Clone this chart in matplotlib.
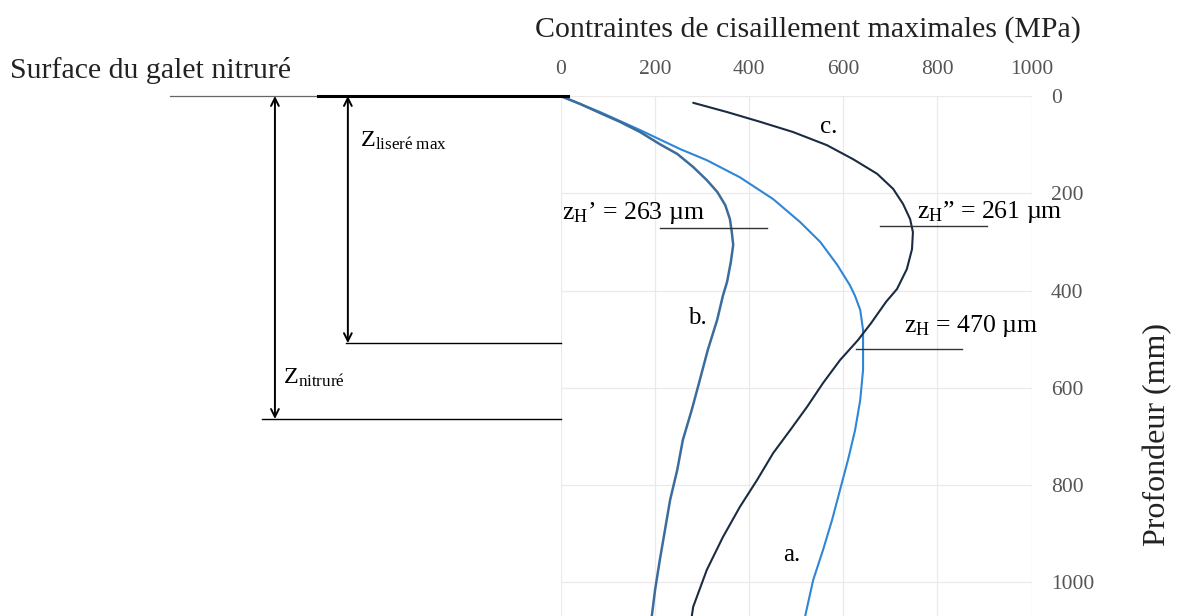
import matplotlib
matplotlib.use("Agg")
import matplotlib.pyplot as plt

plt.rcParams['font.family'] = ['Liberation Serif', 'DejaVu Serif']
plt.rcParams['mathtext.fontset'] = 'custom'
plt.rcParams['mathtext.rm'] = 'Liberation Serif'
plt.rcParams['mathtext.it'] = 'Liberation Serif:italic'

# Maximum shear stress (MPa) versus depth for the three cases
depth_a = [2, 33, 70, 109, 132, 167, 212, 259, 300, 347, 389, 411, 440, 481, 522, 563,
           625, 687, 748, 810, 872, 933, 995, 1069]
stress_a = [4, 83, 168, 253, 310, 380, 451, 508, 551, 587, 614, 625, 636, 642, 642, 642,
            636, 625, 610, 593, 576, 557, 536, 519]

depth_b = [2, 16, 35, 53, 74, 99, 119, 146, 173, 197, 224, 253, 280, 306, 341, 382, 411,
           460, 522, 584, 645, 707, 769, 830, 892, 954, 1015, 1069]
stress_b = [4, 40, 83, 125, 168, 210, 247, 281, 310, 332, 349, 359, 363, 366, 361, 353,
            344, 332, 312, 295, 278, 259, 247, 232, 221, 210, 200, 193]

depth_c = [14, 33, 53, 74, 101, 130, 160, 191, 222, 253, 280, 315, 356, 397, 423, 467,
           502, 543, 590, 639, 687, 734, 789, 845, 907, 974, 1050, 1069]
stress_c = [281, 353, 423, 493, 565, 621, 672, 706, 727, 742, 748, 746, 735, 714, 691,
            659, 631, 593, 557, 523, 487, 451, 417, 380, 344, 310, 281, 278]

x_ticks = [0, 200, 400, 600, 800, 1000]
y_ticks = [0, 200, 400, 600, 800, 1000]

fig = plt.figure(figsize=(11.78, 6.16), dpi=100)
ax = fig.add_axes([561 / 1178, 0.0, 470.5 / 1178, 1 - 96 / 616])

ax.plot(stress_a, depth_a, color='#2f86d6', lw=1.5, solid_capstyle='round',
        solid_joinstyle='round')
ax.plot(stress_b, depth_b, color='#3b6c9c', lw=1.8, solid_capstyle='round',
        solid_joinstyle='round')
ax.plot(stress_c, depth_c, color='#1b2c42', lw=1.5, solid_capstyle='round',
        solid_joinstyle='round')

ax.set_xlim(0, 1000)
ax.set_ylim(1069, 0)
ax.xaxis.tick_top()
ax.yaxis.tick_right()
ax.set_xticks(x_ticks)
ax.set_yticks(y_ticks)
ax.tick_params(axis='x', length=0, pad=12, labelsize=15.5, labelcolor='#555555')
ax.tick_params(axis='y', length=0, pad=14, labelsize=15.5, labelcolor='#555555')
for lab in ax.get_yticklabels():
    lab.set_horizontalalignment('left')
for s in ax.spines.values():
    s.set_visible(False)
ax.grid(True, color='#ece8ec', lw=0.9)
ax.set_axisbelow(True)

# Depth markers drawn on the left of the plot
line_kw = dict(clip_on=False, color='black')
ax.plot([-832, -517], [0, 0], lw=0.9, color='#666666', clip_on=False)
ax.plot([-517, 15], [0, 0], lw=2.2, **line_kw)
ax.plot([-458, 0], [508, 508], lw=1.0, **line_kw)
ax.plot([-636, 0], [664, 664], lw=1.0, **line_kw)
arrow = dict(arrowstyle='<->', color='black', lw=1.4, mutation_scale=14,
             shrinkA=0, shrinkB=0)
ax.annotate('', xy=(-453, 0), xytext=(-453, 508), arrowprops=arrow,
            annotation_clip=False)
ax.annotate('', xy=(-608, 0), xytext=(-608, 664), arrowprops=arrow,
            annotation_clip=False)
ax.text(-428, 92, r'Z$_{\mathrm{liser\acute{e}\ max}}$', fontsize=17.5, va='center',
        ha='left', clip_on=False)
ax.text(-591, 580, r'Z$_{\mathrm{nitrur\acute{e}}}$', fontsize=17.5, va='center',
        ha='left', clip_on=False)

# Positions of the stress maxima
ax.plot([211, 438], [271, 271], color='#333333', lw=1.0)
ax.plot([679, 906], [267, 267], color='#333333', lw=1.0)
ax.plot([628, 853], [520, 520], color='#333333', lw=1.0)
ax.text(2, 240, 'z$_{\\mathrm{H}}$\u2019 = 263 \u00b5m', fontsize=18.5, va='center', ha='left')
ax.text(757, 238, 'z$_{\\mathrm{H}}$\u201d = 261 \u00b5m', fontsize=18.5, va='center', ha='left',
        clip_on=False)
ax.text(728, 473, 'z$_{\\mathrm{H}}$ = 470 \u00b5m', fontsize=18.5, va='center', ha='left',
        clip_on=False)

ax.text(568, 64, 'c.', fontsize=18, va='center', ha='center')
ax.text(289, 456, 'b.', fontsize=18, va='center', ha='center')
ax.text(491, 943, 'a.', fontsize=18, va='center', ha='center')

fig.text(808 / 1178, 1 - 30 / 616, 'Contraintes de cisaillement maximales (MPa)',
         fontsize=21.5, ha='center', va='center', color='#222222')
fig.text(10 / 1178, 1 - 70 / 616, 'Surface du galet nitrur\u00e9', fontsize=21.5,
         ha='left', va='center', color='#222222')
fig.text(1158 / 1178, 1 - 434 / 616, 'Profondeur (mm)', fontsize=23, rotation=90,
         ha='center', va='center', color='#222222')

fig.savefig('out.png', dpi=100)
